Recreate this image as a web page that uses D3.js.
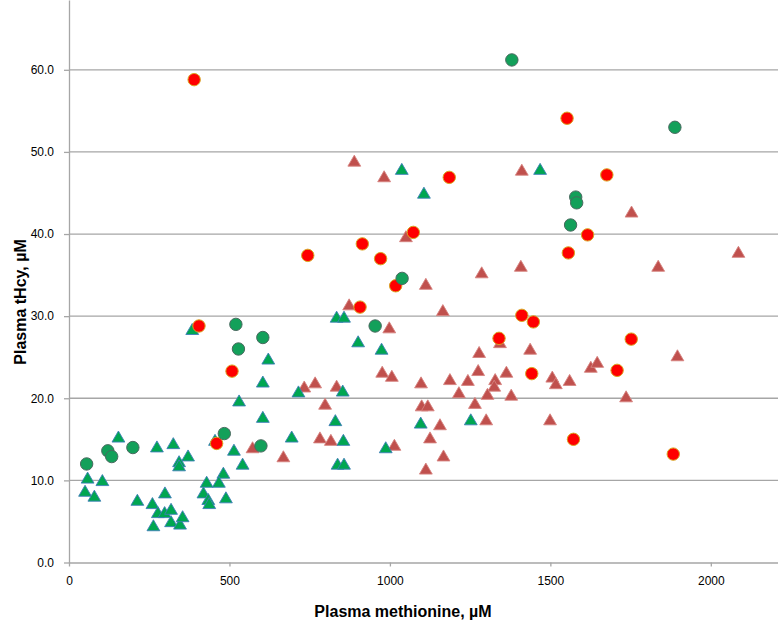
<!DOCTYPE html>
<html>
<head>
<meta charset="utf-8">
<script src="https://cdn.jsdelivr.net/npm/d3@7"></script>
<style>
  body { margin: 0; background: #fff; }
  svg { display: block; }
  .tick text { font-family: "Liberation Sans", Arial, sans-serif; font-size: 12px; fill: #000; }
  .title { font-family: "Liberation Sans", Arial, sans-serif; font-size: 16px; font-weight: bold; fill: #000; }
</style>
</head>
<body>
<svg width="778" height="623"></svg>
<script>
// values: [methionine µM, tHcy µM]
const greenTriangles = [
  [384, 28.4], [621, 24.8], [604, 22.0], [530, 19.7], [604, 17.7], [455, 14.9],
  [514, 13.7], [541, 12.0], [481, 10.9], [429, 9.8], [467, 9.8], [419, 8.5],
  [434, 7.7], [437, 7.2], [489, 7.9], [58, 10.3], [104, 10.0], [50, 8.7],
  [79, 8.1], [154, 15.3], [274, 14.1], [325, 14.5], [371, 13.0], [343, 12.3],
  [343, 11.8], [213, 7.6], [299, 8.5], [260, 7.2], [277, 6.1], [298, 6.1],
  [318, 6.5], [263, 4.5], [318, 5.0], [346, 4.7], [354, 5.6], [834, 29.9],
  [857, 29.9], [901, 26.9], [974, 26.0], [715, 20.8], [853, 20.9], [830, 17.3],
  [1096, 17.0], [694, 15.3], [855, 14.9], [987, 14.0], [837, 12.0], [857, 12.0],
  [1252, 17.4], [1037, 47.9], [1106, 45.0], [1468, 47.9]
];

const greenCircles = [
  [55, 12.0], [121, 13.6], [133, 12.9], [199, 14.0], [484, 15.7], [598, 14.2],
  [520, 29.0], [528, 26.0], [604, 27.4], [954, 28.8], [1038, 34.6], [1380, 61.2],
  [1579, 44.5], [1582, 43.8], [1563, 41.1], [1888, 53.0]
];

const redTriangles = [
  [572, 14.0], [873, 31.4], [1165, 30.7], [998, 28.6], [976, 23.2], [1006, 22.7],
  [1097, 21.9], [1187, 22.3], [1215, 20.7], [733, 21.4], [767, 21.9], [834, 21.5],
  [798, 19.3], [1099, 19.1], [1118, 19.1], [1156, 16.8], [1125, 15.2], [782, 15.2],
  [816, 14.9], [1014, 14.3], [668, 12.9], [1167, 13.0], [1112, 11.4], [1343, 26.8],
  [1278, 25.6], [1437, 26.0], [1275, 23.4], [1363, 23.2], [1626, 23.8], [1646, 24.4],
  [1243, 22.2], [1328, 22.3], [1325, 21.5], [1506, 22.6], [1517, 21.8], [1560, 22.2],
  [1304, 20.5], [1378, 20.4], [1736, 20.2], [1265, 19.4], [1300, 17.4], [1499, 17.4],
  [889, 48.9], [982, 47.0], [1411, 47.8], [1753, 42.7], [1836, 36.1], [2086, 37.8],
  [1896, 25.2], [1050, 39.7], [1286, 35.3], [1408, 36.1], [1112, 33.9]
];

const redCircles = [
  [390, 58.8], [405, 28.8], [460, 14.5], [508, 23.3], [744, 37.4], [914, 38.8],
  [971, 37.0], [1073, 40.2], [1018, 33.7], [907, 31.1], [1185, 46.9], [1411, 30.1],
  [1447, 29.3], [1340, 27.3], [1752, 27.2], [1708, 23.4], [1442, 23.0], [1572, 15.0],
  [1552, 54.1], [1676, 47.2], [1556, 37.7], [1616, 39.9], [1883, 13.2]
];

const xTicks = [0, 500, 1000, 1500, 2000];
const yTicks = [0, 10, 20, 30, 40, 50, 60];

const svg = d3.select("svg");
const gridColor = "#a6a6a6";

//--------------SCALES---------------------------------------
const x = d3.scaleLinear().domain([0, 2200]).range([69, 775]);
const y = d3.scaleLinear().domain([0, 68.5]).range([562.5, 0]);

//--------------GRID & AXES----------------------------------
svg.append("g")
  .selectAll("line")
  .data(yTicks.filter(d => d > 0))
  .join("line")
    .attr("x1", x(0)).attr("x2", 778)
    .attr("y1", d => y(d)).attr("y2", d => y(d))
    .attr("stroke", gridColor)
    .attr("stroke-width", 1.3);

const axisY = svg.append("g")
  .attr("transform", `translate(${x(0)},0)`)
  .call(d3.axisLeft(y).tickValues(yTicks).tickFormat(d3.format(".1f")).tickSize(5).tickPadding(10).tickSizeOuter(0));
axisY.select(".domain").attr("stroke", gridColor).attr("stroke-width", 1.3);
axisY.selectAll(".tick line").attr("stroke", gridColor).attr("stroke-width", 1.3);

const axisX = svg.append("g")
  .attr("transform", `translate(0,${y(0)})`)
  .call(d3.axisBottom(x).tickValues(xTicks).tickFormat(d3.format("d")).tickSize(4).tickPadding(10).tickSizeOuter(0));
axisX.select(".domain").attr("d", `M${x(0)},0.5H778`).attr("stroke", gridColor).attr("stroke-width", 1.3);
axisX.selectAll(".tick line").attr("stroke", gridColor).attr("stroke-width", 1.3);

//--------------MARKERS--------------------------------------
const tri = "M0,-5.8L6.4,5.2L-6.4,5.2Z";

function drawTriangles(points, fill, stroke) {
  svg.append("g").selectAll("path")
    .data(points)
    .join("path")
      .attr("d", tri)
      .attr("transform", d => `translate(${x(d[0])},${y(d[1])})`)
      .attr("fill", fill)
      .attr("stroke", stroke)
      .attr("stroke-width", 0.9);
}

function drawCircles(points, fill, stroke) {
  svg.append("g").selectAll("circle")
    .data(points)
    .join("circle")
      .attr("cx", d => x(d[0]))
      .attr("cy", d => y(d[1]))
      .attr("r", 6.2)
      .attr("fill", fill)
      .attr("stroke", stroke)
      .attr("stroke-width", 1);
}

drawTriangles(redTriangles, "#c0504d", "#d6827f");
drawTriangles(greenTriangles, "#00a651", "#3d7fb8");
drawCircles(redCircles, "#ff0000", "#d9a520");
drawCircles(greenCircles, "#13a05a", "#4a6a60");

//--------------TITLES---------------------------------------
svg.append("text")
  .attr("class", "title")
  .attr("x", 403).attr("y", 617)
  .attr("text-anchor", "middle")
  .text("Plasma methionine, µM");

svg.append("text")
  .attr("class", "title")
  .attr("transform", "translate(26,302) rotate(-90)")
  .attr("text-anchor", "middle")
  .text("Plasma tHcy, µM");
</script>
</body>
</html>
